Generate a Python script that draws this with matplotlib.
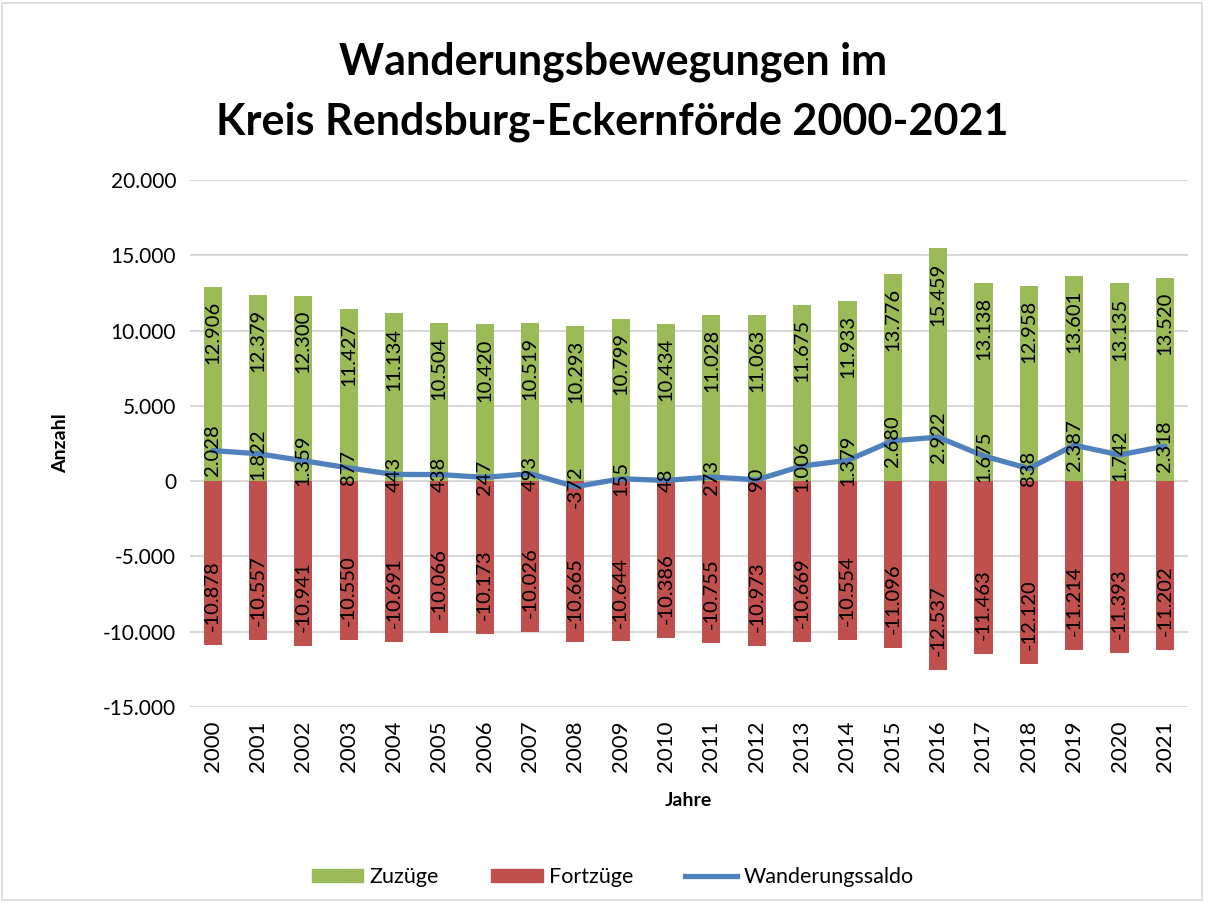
import matplotlib
matplotlib.use("Agg")
import matplotlib.pyplot as plt
from matplotlib.patches import Rectangle
from matplotlib.lines import Line2D
from matplotlib.patches import Patch

plt.rcParams['font.family'] = ['Lato', 'DejaVu Sans']

jahre = [str(j) for j in range(2000, 2022)]
zuzuege = [12906, 12379, 12300, 11427, 11134, 10504, 10420, 10519, 10293, 10799, 10434,
           11028, 11063, 11675, 11933, 13776, 15459, 13138, 12958, 13601, 13135, 13520]
fortzuege = [-10878, -10557, -10941, -10550, -10691, -10066, -10173, -10026, -10665, -10644, -10386,
             -10755, -10973, -10669, -10554, -11096, -12537, -11463, -12120, -11214, -11393, -11202]
saldo = [2028, 1822, 1359, 877, 443, 438, 247, 493, -372, 155, 48,
         273, 90, 1006, 1379, 2680, 2922, 1675, 838, 2387, 1742, 2318]

gruen = '#9BBB59'
rot = '#C0504D'
blau = '#4F81BD'


def de(v):
    return f'{v:,}'.replace(',', '.')


fig = plt.figure(figsize=(12.13, 9.10), dpi=100)
fig.patches.append(Rectangle((0.002, 0.011), 0.989, 0.986, transform=fig.transFigure,
                             fill=False, edgecolor='#D9D9D9', linewidth=1.2))
ax = fig.add_axes([0.1566, 0.2231, 0.8224, 0.5791])

x = list(range(len(jahre)))
ax.bar(x, zuzuege, width=0.4, color=gruen, zorder=2)
ax.bar(x, fortzuege, width=0.4, color=rot, zorder=2)
ax.plot(x, saldo, color=blau, linewidth=3.8, solid_capstyle='round', zorder=3)

for i in x:
    ax.annotate(de(zuzuege[i]), (i, zuzuege[i]), xytext=(0, -10), textcoords='offset points',
                rotation=90, ha='center', va='top', fontsize=14.5, zorder=4)
    ax.annotate(de(fortzuege[i]), (i, fortzuege[i]), xytext=(0, 10), textcoords='offset points',
                rotation=90, ha='center', va='bottom', fontsize=14.5, zorder=4)
    ax.annotate(de(saldo[i]), (i, saldo[i]), rotation=90, ha='center', va='center',
                fontsize=14.5, zorder=4)

ax.set_xlim(-0.5, len(jahre) - 0.5)
ax.set_ylim(-15000, 20000)
ax.set_yticks(range(-15000, 20001, 5000))
ax.set_yticklabels([de(v) for v in range(-15000, 20001, 5000)], fontsize=15)
ax.set_xticks(x)
ax.set_xticklabels(jahre, rotation=90, fontsize=16)
ax.tick_params(length=0, pad=10)
ax.grid(axis='y', color='#D9D9D9', linewidth=1.5, zorder=0)
ax.set_axisbelow(True)
for s in ax.spines.values():
    s.set_visible(False)

ax.set_xlabel('Jahre', fontsize=14, fontweight='bold', labelpad=14)
ax.set_ylabel('Anzahl', fontsize=14, fontweight='bold', labelpad=24)

fig.text(0.505, 0.932, 'Wanderungsbewegungen im', ha='center', va='center',
         fontsize=31, fontweight='bold')
fig.text(0.505, 0.866, 'Kreis Rendsburg-Eckernförde 2000-2021', ha='center', va='center',
         fontsize=31, fontweight='bold')

handles = [Patch(color=gruen, label='Zuzüge'), Patch(color=rot, label='Fortzüge'),
           Line2D([0], [0], color=blau, linewidth=3.8, label='Wanderungssaldo')]
fig.legend(handles=handles, loc='center', bbox_to_anchor=(0.505, 0.036), ncol=3,
           frameon=False, fontsize=15.5, handlelength=2.4, handleheight=0.6,
           columnspacing=2.4, handletextpad=0.3)

fig.savefig('out.png', dpi=100)
